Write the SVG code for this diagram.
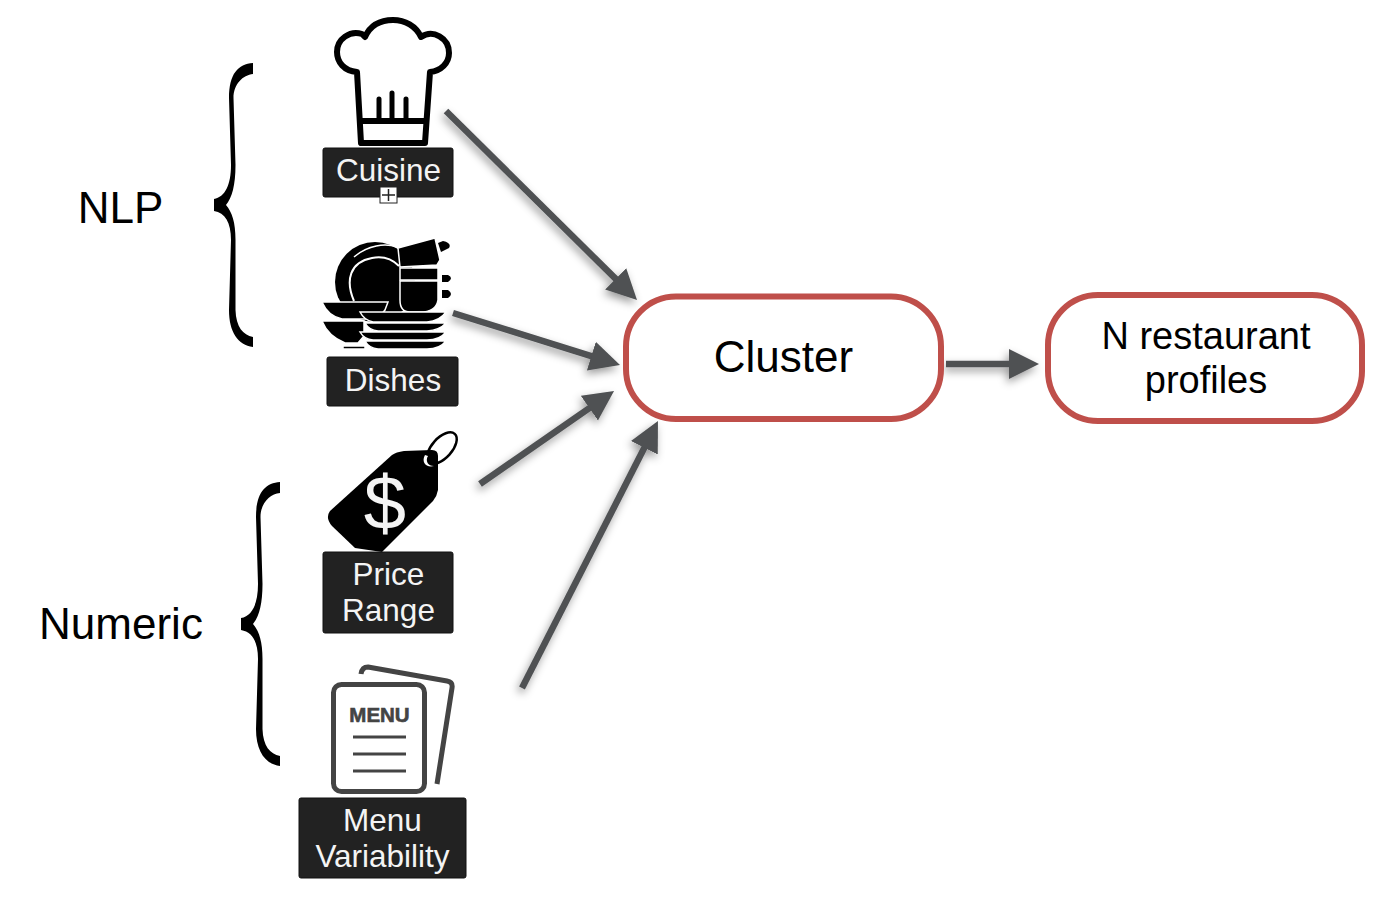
<svg xmlns="http://www.w3.org/2000/svg" width="1400" height="907" viewBox="0 0 1400 907">
<style>
text{font-family:"Liberation Sans",Arial,sans-serif;text-anchor:middle}
.lb{fill:#222;stroke:#111;stroke-width:1}
.lt{fill:#f4f4f4;font-size:31.500px}
.big{fill:#000;font-size:44px}
.mid{fill:#000;font-size:38px}
.box{fill:#fff;stroke:#bf4f4a;stroke-width:6}
.ar{stroke:#4f5153;stroke-width:6.500;fill:none;marker-end:url(#ah)}
.pl{fill:#000;stroke:#fff;stroke-width:1.500}
</style>
<defs>
<marker id="ah" markerUnits="userSpaceOnUse" markerWidth="34" markerHeight="34" refX="10" refY="15" orient="auto"><path d="M0 0L30 15L0 30Z" fill="#4f5153"/></marker>
<filter id="sh" x="-20%" y="-20%" width="140%" height="140%"><feDropShadow dx="-2" dy="4" stdDeviation="4" flood-color="#000" flood-opacity="0.4"/></filter>
<path id="brace" d="M253 63C238 64 229 74 229 98L231 165C231 185 225 197 214 199L214 211C225 213 231 222 231 240L229 310C229 332 238 345 253 347L253 337C243 335 236 327 235.500 310L235.500 240C235.500 222 232 212 226 205C232 198 235.500 185 235.500 165L233.500 98C233.500 84 243 75 253 74Z" fill="#000"/>
</defs>
<rect width="1400" height="907" fill="#fff"/>
<g id="connectors" filter="url(#sh)">
<path class="ar" d="M446 111L622.800 285.900"/>
<path class="ar" d="M453 313L600.900 359.100"/>
<path class="ar" d="M480 484L597.600 402.400"/>
<path class="ar" d="M522 688L648.900 438.800"/>
<path class="ar" d="M946 364L1019 364"/>
</g>
<g id="brace-nlp"><use href="#brace"/><text class="big" x="120.500" y="223">NLP</text></g>
<g id="brace-numeric"><use href="#brace" transform="translate(27 419)"/><text class="big" x="121" y="639">Numeric</text></g>
<g id="cuisine">
<path d="M357 72C344 71 337 62 337 52C337 39 350 30 362 34L365 37C370 26 380 20 393 20C405 20 416 26 421 37C433 29 449 38 449 53C449 63 441 71 430 72L425 143L361 143Z" fill="#fff" stroke="#000" stroke-width="6" stroke-linejoin="round"/>
<path d="M359 121H427" fill="none" stroke="#000" stroke-width="6"/>
<path d="M379 120V99M392 120V93M406 120V99" fill="none" stroke="#000" stroke-width="5" stroke-linecap="round"/>
<rect class="lb" x="323" y="148" width="130" height="49" rx="2"/>
<text class="lt" x="388.500" y="181">Cuisine</text>
<rect x="380" y="187" width="17" height="16" fill="#fff" stroke="#222"/>
<path d="M388.500 189V201M382 195H395" stroke="#222" stroke-width="1.500"/>
</g>
<g id="dishes">
<circle cx="375" cy="282" r="40" fill="#000"/>
<path d="M354 257C368 245 385 243 397 247" fill="none" stroke="#fff" stroke-width="1.500"/>
<path d="M354 301C345 280 350 262 372 258C382 256 392 259 399 266" fill="none" stroke="#fff" stroke-width="2"/>
<path d="M398 248L435 238L440 260L437 265L400 267Z" class="pl"/>
<path d="M400 268H438V280H400Z" class="pl"/>
<path d="M400 281H438V300Q436 312 420 312H410Q400 312 400 300Z" class="pl"/>
<path d="M438 243L443 241Q452 243 449 248L441 252ZM442 275H448Q454 278 448 282H442ZM442 290H448Q454 294 448 298H442Z" fill="#000"/>
<path d="M322 302H388L385 310Q380 318 368 319H342Q328 316 322 302Z" class="pl"/>
<path d="M322 321H364V336L358 343H345Q328 336 322 321ZM343 346H365V349H343Z" class="pl"/>
<path d="M360 312H446Q440 321 427 322H373Q364 320 360 312Z" class="pl"/>
<path d="M365 323H446Q440 330 427 331H378Q369 330 365 323Z" class="pl"/>
<path d="M360 332H446Q440 340 427 340H373Q364 339 360 332Z" class="pl"/>
<path d="M365 341H446Q440 349 427 349H378Q369 348 365 341Z" class="pl"/>
<rect class="lb" x="327" y="357" width="131" height="49" rx="2"/>
<text class="lt" x="393" y="391">Dishes</text>
</g>
<g id="price-range">
<ellipse cx="442" cy="448" rx="19" ry="10" transform="rotate(-48 442 448)" fill="none" stroke="#000" stroke-width="2.500"/>
<path d="M330 511L392 455Q396 452 404 451L432 450Q438 450 438 456L438 490Q437 496 433 501L382 552L355 548L332 526Q325 518 330 511Z" fill="#000"/>
<path d="M425 455C421 462 426 468 434 466C428 466 425 461 428 456Z" fill="#fff"/>
<text x="385" y="529" fill="#f4f4f4" font-size="76px">$</text>
<rect class="lb" x="323" y="552" width="130" height="81" rx="2"/>
<text class="lt" x="388.500" y="585">Price</text>
<text class="lt" x="388.500" y="621">Range</text>
</g>
<g id="menu-variability">
<path d="M361 674Q362 667 368 667L447 681Q453 682 452 688L437 784" fill="none" stroke="#444" stroke-width="5" stroke-linejoin="round"/>
<rect x="333.500" y="684.500" width="91" height="107" rx="8" fill="#fff" stroke="#444" stroke-width="5"/>
<text x="379.500" y="722" fill="#444" stroke="#444" stroke-width="0.600" font-size="20.500px" font-weight="700">MENU</text>
<path d="M353 737H406M353 754H406M353 771H406" stroke="#444" stroke-width="3"/>
<rect class="lb" x="299" y="798" width="167" height="80" rx="2"/>
<text class="lt" x="382.500" y="831">Menu</text>
<text class="lt" x="382.500" y="867">Variability</text>
</g>
<g id="cluster"><rect class="box" x="626" y="296.500" width="315" height="122.500" rx="50"/><text class="big" x="783.500" y="372">Cluster</text></g>
<g id="profiles"><rect class="box" x="1048" y="295" width="314" height="126" rx="50"/><text class="mid" x="1206" y="349">N restaurant</text><text class="mid" x="1206" y="393">profiles</text></g>
</svg>
